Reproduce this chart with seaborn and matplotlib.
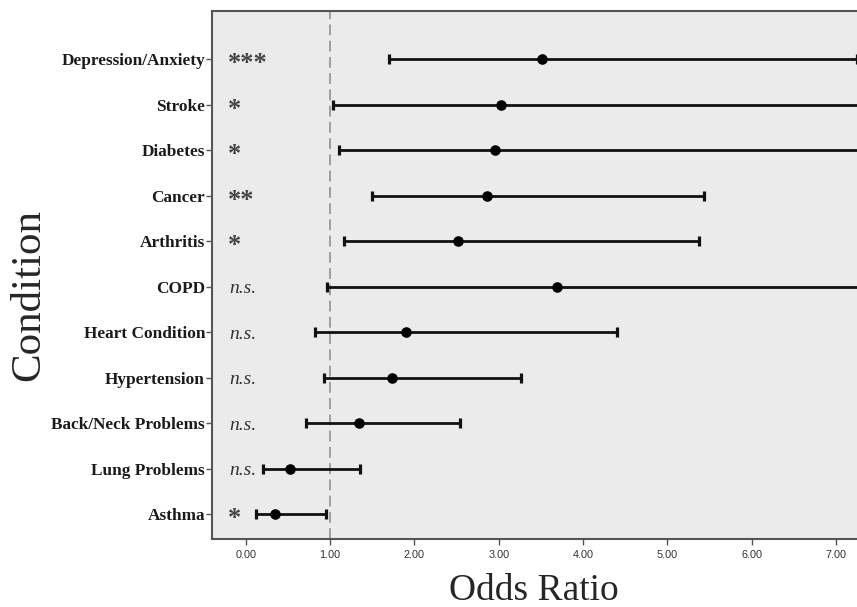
import matplotlib
matplotlib.use('Agg')
import matplotlib.pyplot as plt
import seaborn as sns
import numpy as np
import pandas as pd

# Values (odds ratio with 95% CI)
conditions = ["Depression/Anxiety", "Stroke", "Diabetes", "Cancer", "Arthritis", "COPD",
              "Heart Condition", "Hypertension", "Back/Neck Problems", "Lung Problems", "Asthma"]
odds_ratio = [3.51, 3.03, 2.96, 2.86, 2.52, 3.69, 1.90, 1.74, 1.34, 0.53, 0.35]
ci_lower = [1.70, 1.03, 1.11, 1.50, 1.17, 0.96, 0.82, 0.93, 0.71, 0.21, 0.12]
ci_upper = [7.25, 8.60, 8.90, 5.44, 5.38, 10.50, 4.40, 3.26, 2.54, 1.35, 0.95]
significance = ["***", "*", "*", "**", "*", "n.s.", "n.s.", "n.s.", "n.s.", "n.s.", "*"]
x_ticks = [0, 1, 2, 3, 4, 5, 6, 7]

df = pd.DataFrame({"Condition": conditions, "OR": odds_ratio,
                   "Lower": ci_lower, "Upper": ci_upper, "Sig": significance})
df["pos"] = np.arange(len(df))

sns.set_style("ticks", {"axes.facecolor": "#ebebeb", "axes.edgecolor": "#555555"})
plt.rcParams['font.family'] = ['Liberation Serif', 'DejaVu Serif']

fig = plt.figure(figsize=(8.57, 6.07), dpi=100)
ax = fig.add_axes([212 / 857, 1 - 539 / 607, 1 - 212 / 857 + 0.003, (539 - 11) / 607])

# reference line at OR = 1
ax.axvline(1.0, color="#999999", linestyle=(0, (6, 3)), linewidth=1.3, zorder=1)

# confidence intervals
ax.errorbar(df["OR"], df["pos"],
            xerr=[df["OR"] - df["Lower"], df["Upper"] - df["OR"]],
            fmt="none", ecolor="#111111", elinewidth=2.0, capsize=3.8, capthick=2.3, zorder=2)

sns.scatterplot(data=df, x="OR", y="pos", ax=ax, color="black", s=58,
                edgecolor="black", linewidth=0, zorder=3, legend=False)

for _, row in df.iterrows():
    if row["Sig"] == "n.s.":
        ax.text(-0.2, row["pos"] + 0.04, row["Sig"], fontsize=14, style="italic",
                color="#333333", ha="left", va="center")
    else:
        ax.text(-0.21, row["pos"] + 0.1, row["Sig"], fontsize=19, fontweight="bold",
                color="#444444", ha="left", va="center")

ax.set_xlim(-0.40, 7.28)
ax.set_ylim(10.54, -1.06)
ax.set_yticks(df["pos"])
ax.set_yticklabels(df["Condition"], fontsize=12.4, fontweight="bold", color="#1a1a1a")
ax.set_xticks(x_ticks)
ax.set_xticklabels([f"{t:.2f}" for t in x_ticks], fontsize=7.8,
                   family="Liberation Sans", color="#333333")
ax.tick_params(axis="y", length=4, width=1, color="#555555", pad=1)
ax.tick_params(axis="x", length=4, width=1, color="#555555", pad=4)
for sp in ax.spines.values():
    sp.set_linewidth(1.5)
ax.spines["right"].set_visible(False)

ax.set_xlabel("")
ax.set_ylabel("")
fig.text(534 / 857, 1 - 591 / 607, "Odds Ratio", fontsize=27, ha="center", va="center")
fig.text(29 / 857, 1 - 295 / 607, "Condition", fontsize=31, rotation=90,
         ha="center", va="center")

fig.savefig("out.png", dpi=100)
